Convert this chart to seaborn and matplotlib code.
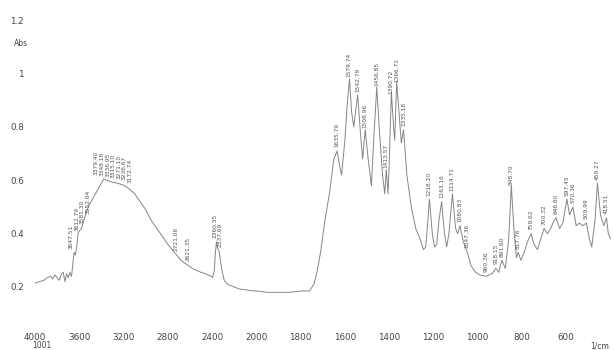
import numpy as np
import pandas as pd
import matplotlib
matplotlib.use("Agg")
import matplotlib.pyplot as plt
import seaborn as sns

# IR absorbance spectrum (wavenumber in 1/cm, absorbance)
wavenumber = [
    4000, 3960, 3920, 3890, 3860, 3840, 3820, 3800, 3780, 3760, 3745, 3730,
    3715, 3700, 3685, 3670, 3655, 3647, 3635, 3620, 3612, 3600, 3581, 3565,
    3552, 3520, 3480, 3440, 3400, 3379, 3350, 3320, 3290, 3260, 3230, 3200,
    3172, 3140, 3100, 3050, 3000, 2950, 2900, 2850, 2800, 2750, 2721, 2680,
    2650, 2621, 2580, 2540, 2500, 2460, 2420, 2395, 2380, 2370, 2360, 2350,
    2337, 2325, 2310, 2290, 2260, 2200, 2150, 2100, 2050, 2000, 1950, 1900,
    1850, 1800, 1760, 1740, 1725, 1710, 1690, 1670, 1650, 1635, 1625, 1615,
    1600, 1590, 1579, 1570, 1560, 1550, 1542, 1530, 1520, 1508, 1495, 1480,
    1470, 1456, 1445, 1430, 1420, 1413, 1405, 1400, 1390, 1380, 1375, 1366,
    1355, 1345, 1335, 1320, 1300, 1280, 1260, 1245, 1235, 1225, 1218, 1205,
    1195, 1185, 1175, 1163, 1150, 1140, 1130, 1114, 1100, 1090, 1080, 1065,
    1047, 1030, 1010, 990, 960, 950, 935, 918, 905, 891, 875, 860,
    848, 835, 825, 817, 805, 790, 775, 759, 745, 730, 715, 700,
    685, 670, 660, 646, 630, 615, 597, 585, 570, 555, 540, 525,
    509, 495, 485, 470, 459, 445, 430, 418, 410, 400,
]
absorbance = [
    0.214, 0.220, 0.225, 0.235, 0.240, 0.230, 0.245, 0.235, 0.225, 0.250, 0.255, 0.220,
    0.250, 0.235, 0.255, 0.240, 0.300, 0.330, 0.320, 0.360, 0.400, 0.410, 0.420, 0.440,
    0.460, 0.500, 0.530, 0.560, 0.590, 0.605, 0.600, 0.595, 0.592, 0.590, 0.586, 0.582,
    0.575, 0.565, 0.550, 0.520, 0.490, 0.450, 0.420, 0.390, 0.360, 0.335, 0.320, 0.300,
    0.290, 0.283, 0.270, 0.262, 0.255, 0.250, 0.242, 0.236, 0.260, 0.330, 0.370, 0.345,
    0.335, 0.300, 0.260, 0.225, 0.210, 0.200, 0.192, 0.190, 0.186, 0.185, 0.180, 0.180,
    0.180, 0.185, 0.185, 0.210, 0.260, 0.330, 0.450, 0.550, 0.680, 0.710, 0.660, 0.620,
    0.750, 0.880, 0.980, 0.860, 0.800, 0.870, 0.920, 0.780, 0.680, 0.790, 0.680, 0.580,
    0.750, 0.950, 0.800, 0.620, 0.550, 0.640, 0.550, 0.660, 0.930, 0.800, 0.750, 0.970,
    0.850, 0.740, 0.790, 0.620, 0.500, 0.420, 0.380, 0.340, 0.350, 0.450, 0.530, 0.400,
    0.350, 0.360, 0.450, 0.520, 0.400, 0.350, 0.400, 0.550, 0.420, 0.400, 0.430, 0.370,
    0.330, 0.280, 0.255, 0.245, 0.240, 0.245, 0.250, 0.270, 0.255, 0.300, 0.270, 0.380,
    0.580, 0.400, 0.310, 0.330, 0.300, 0.330, 0.370, 0.400, 0.360, 0.340, 0.380, 0.420,
    0.400, 0.420, 0.440, 0.460, 0.420, 0.440, 0.530, 0.470, 0.500, 0.430, 0.440, 0.430,
    0.440, 0.380, 0.350, 0.450, 0.590, 0.470, 0.430, 0.460, 0.400, 0.380,
]

# Picked peaks
peak_wn = [
    3647.51, 3612.79, 3581.30, 3552.64, 3379.40, 3348.18, 3336.95, 3315.10,
    3271.10, 3236.67, 3172.74, 2721.06, 2621.35, 2360.35, 2337.69,
    1635.79, 1579.74, 1542.79, 1508.96, 1456.85, 1413.57, 1390.72, 1366.71,
    1335.18, 1218.20, 1163.16, 1114.71, 1080.83, 1047.36, 960.36, 918.15,
    891.60, 848.70, 817.76, 759.62, 700.32, 646.60, 597.45, 570.36,
    509.99, 459.27, 418.51,
]

y_ticks = [0.2, 0.4, 0.6, 0.8, 1.0, 1.2]
y_tick_labels = ["0.2", "0.4", "0.6", "0.8", "1", "1.2"]
x_ticks = [4000, 3600, 3200, 2800, 2400, 2000, 1800, 1600, 1400, 1200, 1000, 800, 600]

spec = pd.DataFrame({"wn": wavenumber, "A": absorbance})


# Split wavenumber axis: 400 cm-1 per division above 2000, 200 below
def fwd(w):
    w = np.asarray(w, dtype=float)
    return np.where(w <= 2000, w / 200.0, 5.0 + w / 400.0)


def inv(p):
    p = np.asarray(p, dtype=float)
    return np.where(p <= 10, p * 200.0, (p - 5.0) * 400.0)


sns.set_style("white")
plt.rcParams["font.family"] = ["DejaVu Sans"]

fig = plt.figure(figsize=(6.13, 3.5), dpi=100)
ax = fig.add_axes([35 / 613, (350 - 327) / 350, (610.5 - 35) / 613, (327 - 7) / 350])

sns.lineplot(data=spec, x="wn", y="A", ax=ax, color="#858585", lw=0.7,
             estimator=None, sort=False)

ax.set_xscale("function", functions=(fwd, inv))
ax.set_xlim(4000, 400)
ax.set_ylim(0.05, 1.25)

ax.set_xticks(x_ticks)
ax.set_xticklabels([str(t) for t in x_ticks])
ax.set_yticks(y_ticks)
ax.set_yticklabels(y_tick_labels)
ax.tick_params(axis="both", length=0, labelsize=6.3, labelcolor="#444444")
ax.tick_params(axis="y", pad=8)
ax.tick_params(axis="x", pad=4)
ax.set_xlabel("")
ax.set_ylabel("")
for s in ax.spines.values():
    s.set_visible(False)

# Peak annotations: spread crowded labels sideways so they don't collide
units_per_px = (fwd(4000) - fwd(400)) / (610.5 - 35)
min_gap = 5.6 * units_per_px
order = sorted(peak_wn, reverse=True)
pos = [15.0 - float(fwd(w)) for w in order]   # left-to-right position
placed = list(pos)
for i in range(1, len(placed)):
    placed[i] = max(placed[i], placed[i - 1] + min_gap)
# pull groups back so each cluster is centred on its peaks
i = 0
while i < len(placed):
    j = i
    while j + 1 < len(placed) and placed[j + 1] - placed[j] <= min_gap + 1e-9:
        j += 1
    shift = np.mean(placed[i:j + 1]) - np.mean(pos[i:j + 1])
    lo = placed[i - 1] + min_gap if i > 0 else -np.inf
    shift = min(shift, placed[i] - lo)
    for k in range(i, j + 1):
        placed[k] -= shift
    i = j + 1

wn_sorted = np.array(wavenumber[::-1], dtype=float)
a_sorted = np.array(absorbance[::-1], dtype=float)
for w, p in zip(order, placed):
    a = float(np.interp(w, wn_sorted, a_sorted))
    ax.text(float(inv(15.0 - p)), a + 0.015, f"{w:.2f}", rotation=90,
            ha="center", va="bottom", fontsize=4.2, color="#555555")

fig.text(14 / 613, 1 - 43 / 350, "Abs", fontsize=5.5, color="#444444",
         ha="left", va="center")
fig.text(600 / 613, 1 - 346 / 350, "1/cm", fontsize=5.5, color="#444444",
         ha="center", va="center")
fig.text(42 / 613, 1 - 346 / 350, "1001", fontsize=5.5, color="#444444",
         ha="center", va="center")

fig.savefig("out.png", dpi=100)
